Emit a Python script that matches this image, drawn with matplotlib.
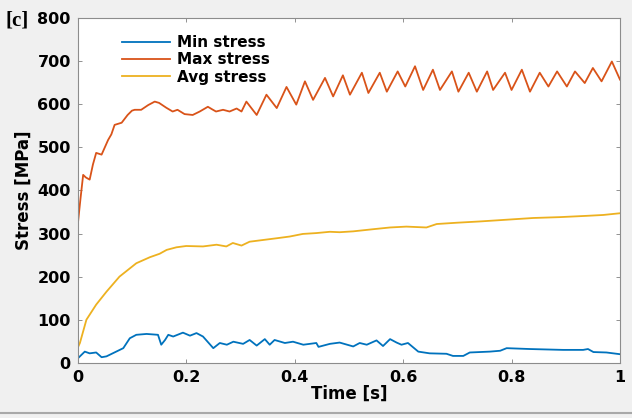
import matplotlib
matplotlib.use("Agg")
import matplotlib.pyplot as plt
from matplotlib.lines import Line2D

# min stress (time [s], stress [MPa])
t_min = [0.000, 0.004, 0.013, 0.022, 0.034, 0.044, 0.053, 0.084, 0.096, 0.108, 0.127,
         0.148, 0.154, 0.161, 0.167, 0.176, 0.194, 0.207, 0.219, 0.231, 0.250, 0.262,
         0.275, 0.287, 0.305, 0.317, 0.330, 0.345, 0.354, 0.363, 0.382, 0.397, 0.416,
         0.440, 0.444, 0.465, 0.483, 0.508, 0.520, 0.533, 0.551, 0.563, 0.576, 0.588,
         0.597, 0.609, 0.628, 0.649, 0.680, 0.692, 0.711, 0.723, 0.760, 0.779, 0.791,
         0.834, 0.895, 0.932, 0.941, 0.951, 0.975, 1.000]
s_min = [10, 15, 26, 22, 24, 13, 15, 34, 57, 65, 67,
         65, 42, 53, 65, 61, 70, 63, 69, 61, 34, 46,
         42, 49, 44, 53, 40, 55, 42, 53, 46, 49, 42,
         46, 37, 44, 47, 38, 46, 42, 52, 39, 55, 47,
         42, 46, 26, 22, 21, 16, 16, 24, 26, 28, 34,
         32, 30, 30, 32, 25, 24, 20]

# max stress
t_max = [0.000, 0.005, 0.010, 0.015, 0.022, 0.028, 0.034, 0.044, 0.050, 0.056, 0.062,
         0.068, 0.081, 0.092, 0.100, 0.105, 0.117, 0.130, 0.142, 0.150, 0.163, 0.175,
         0.184, 0.197, 0.212, 0.225, 0.240, 0.248, 0.255, 0.268, 0.280, 0.293, 0.302,
         0.311, 0.330, 0.348, 0.367, 0.385, 0.403, 0.419, 0.434, 0.456, 0.471, 0.489,
         0.502, 0.524, 0.536, 0.557, 0.570, 0.590, 0.604, 0.622, 0.637, 0.655, 0.668,
         0.690, 0.702, 0.721, 0.736, 0.755, 0.766, 0.788, 0.800, 0.819, 0.834, 0.852,
         0.868, 0.884, 0.902, 0.917, 0.935, 0.950, 0.966, 0.985, 1.000]
s_max = [320, 380, 436, 430, 425, 460, 487, 483, 500, 517, 530,
         552, 557, 575, 585, 587, 587, 598, 606, 603, 592, 583,
         587, 577, 575, 583, 594, 588, 583, 587, 583, 590, 583,
         606, 575, 622, 591, 640, 599, 653, 610, 661, 618, 667,
         622, 673, 626, 673, 629, 676, 641, 688, 633, 680, 633,
         676, 629, 673, 629, 676, 633, 673, 633, 680, 629, 673,
         641, 676, 641, 676, 649, 684, 653, 699, 657]

# avg stress
t_avg = [0.000, 0.004, 0.016, 0.034, 0.053, 0.077, 0.108, 0.133, 0.151, 0.164, 0.182,
         0.200, 0.231, 0.256, 0.274, 0.286, 0.302, 0.317, 0.342, 0.367, 0.391, 0.415,
         0.440, 0.465, 0.483, 0.508, 0.545, 0.576, 0.606, 0.643, 0.662, 0.699, 0.742,
         0.791, 0.840, 0.889, 0.939, 0.969, 1.000]
s_avg = [35, 46, 100, 135, 165, 200, 231, 245, 253, 262, 268,
         271, 270, 274, 270, 278, 272, 281, 285, 289, 293, 299,
         301, 304, 303, 305, 310, 314, 316, 314, 322, 325, 328,
         332, 336, 338, 341, 343, 347]

x_ticks = [0, 0.2, 0.4, 0.6, 0.8, 1]
x_labels = ["0", "0.2", "0.4", "0.6", "0.8", "1"]
y_ticks = [0, 100, 200, 300, 400, 500, 600, 700, 800]

fig = plt.figure(figsize=(6.32, 4.18), dpi=100, facecolor="#f0f0f0")
ax = fig.add_axes([0.123, 0.132, 0.858, 0.825])
ax.set_facecolor("white")

ax.plot(t_min, s_min, color="#0072BD", lw=1.3, label="Min stress")
ax.plot(t_max, s_max, color="#D95319", lw=1.3, label="Max stress")
ax.plot(t_avg, s_avg, color="#EDB120", lw=1.3, label="Avg stress")

ax.set_xlim(0, 1)
ax.set_ylim(0, 800)
ax.set_xticks(x_ticks)
ax.set_xticklabels(x_labels)
ax.set_yticks(y_ticks)
ax.tick_params(direction="in", length=3, width=0.6, color="#808080",
               top=True, right=True, labelsize=11.5, pad=5)
for lab in ax.get_xticklabels() + ax.get_yticklabels():
    lab.set_fontweight("bold")
for sp in ax.spines.values():
    sp.set_color("#8c8c8c")
    sp.set_linewidth(0.8)

ax.set_xlabel("Time [s]", fontsize=12, fontweight="bold", labelpad=0)
ax.set_ylabel("Stress [MPa]", fontsize=12, fontweight="bold", labelpad=3)

leg = ax.legend(loc="upper left", bbox_to_anchor=(0.057, 0.99), frameon=False,
                prop={"weight": "bold", "size": 11}, handlelength=3.1,
                labelspacing=0.15, handletextpad=0.5)

fig.text(0.008, 0.952, "[c]", fontsize=15, fontweight="bold",
         family="Liberation Serif", va="center")

# thin grey border line at the bottom of the picture
fig.add_artist(Line2D([0, 1], [0.012, 0.012], transform=fig.transFigure,
                      color="#a8a8a8", lw=1.5))

fig.savefig("out.png", dpi=100, facecolor=fig.get_facecolor())
